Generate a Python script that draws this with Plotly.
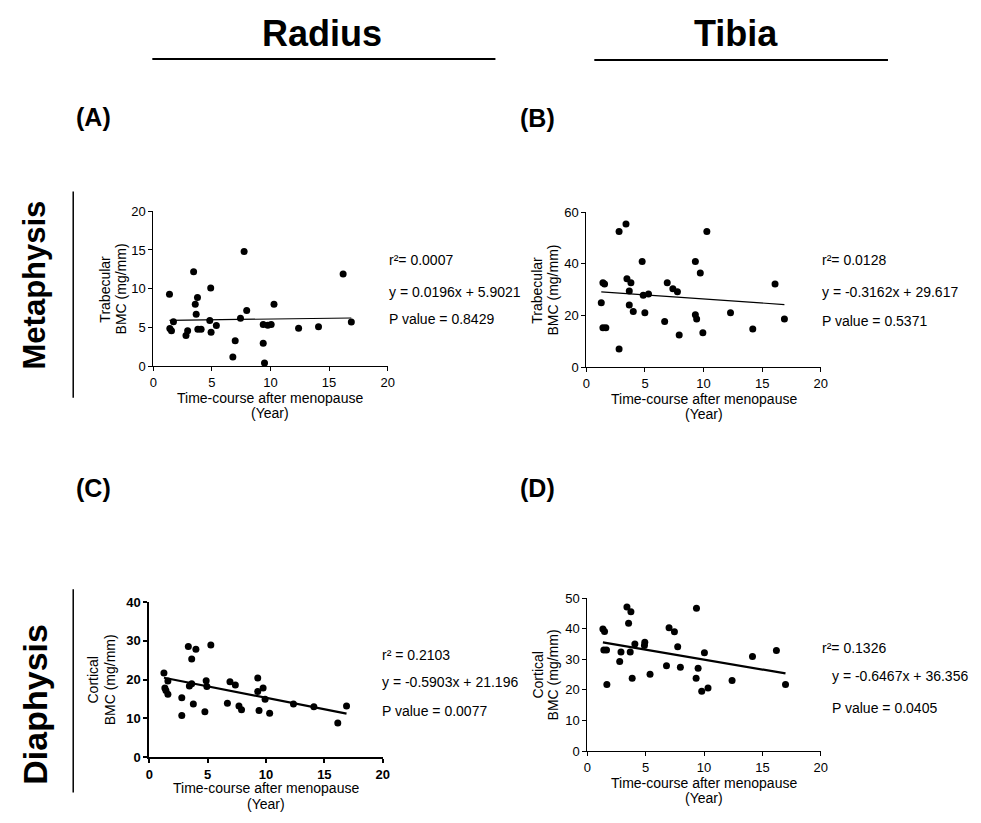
import plotly.graph_objects as go

W, H = 981, 823

# ---------------- data ----------------
years_A = [1.38, 1.41, 1.55, 1.72, 2.79, 2.93, 3.44, 3.58, 3.66, 3.77, 3.80, 4.08, 4.82, 4.90, 4.93, 5.38,
           6.79, 6.99, 7.44, 7.75, 7.97, 9.38, 9.38, 9.49, 9.77, 10.06, 10.30, 12.40, 14.10, 16.20, 16.90]
bmc_A = [9.3, 4.87, 4.58, 5.76, 3.98, 4.58, 12.2, 8.0, 6.7, 8.86, 4.79, 4.79, 5.9, 10.1, 4.4, 5.25,
         1.19, 3.3, 6.2, 14.8, 7.2, 5.4, 2.97, 0.42, 5.3, 5.4, 8.0, 4.9, 5.1, 11.9, 5.7]

years_B = [1.27, 1.41, 1.55, 1.41, 1.66, 2.79, 2.79, 3.38, 3.46, 3.80, 3.66, 3.66, 4.00, 4.76, 4.85, 4.99,
           5.30, 6.68, 6.90, 7.38, 7.77, 7.92, 9.30, 9.30, 9.41, 9.72, 9.94, 10.28, 12.30, 14.20, 16.10, 16.90]
bmc_B = [25.0, 32.7, 32.2, 15.3, 15.3, 52.5, 7.1, 55.4, 34.3, 32.7, 29.5, 24.1, 21.6, 40.9, 27.9, 21.1,
         28.4, 17.7, 32.7, 30.4, 29.2, 12.5, 40.9, 20.3, 18.7, 36.5, 13.4, 52.5, 21.1, 14.8, 32.2, 18.7]

years_C = [1.25, 1.33, 1.42, 1.59, 1.59, 2.78, 2.78, 3.34, 3.43, 3.63, 3.63, 3.77, 3.99, 4.76, 4.87, 4.93,
           5.27, 6.69, 6.91, 7.37, 7.68, 7.90, 9.29, 9.29, 9.40, 9.75, 9.92, 10.31, 12.35, 14.10, 16.15, 16.90]
bmc_C = [21.7, 17.8, 17.2, 19.6, 16.2, 15.3, 10.7, 28.5, 18.3, 25.3, 18.9, 13.7, 27.8, 11.7, 19.7, 18.2,
         28.9, 13.9, 19.4, 18.6, 13.2, 12.2, 20.4, 16.9, 12.0, 17.8, 14.9, 11.3, 13.7, 13.0, 8.8, 13.2]

years_D = [1.33, 1.47, 1.41, 1.64, 1.67, 2.77, 2.88, 3.39, 3.53, 3.67, 3.73, 3.84, 4.07, 4.89, 4.92, 5.37,
           6.78, 7.00, 7.46, 7.74, 7.97, 9.32, 9.35, 9.49, 9.80, 10.03, 10.34, 12.40, 14.15, 16.20, 16.98]
bmc_D = [39.9, 39.1, 33.0, 33.0, 21.8, 29.3, 32.4, 47.1, 41.8, 32.4, 45.5, 23.8, 35.0, 34.5, 35.6, 25.1,
         27.9, 40.3, 39.0, 34.1, 27.4, 23.8, 46.7, 27.1, 19.6, 32.1, 20.6, 23.1, 30.9, 32.9, 21.8]

# regression results (slope, intercept) and statistics text
fit_A = (0.0196, 5.9021)
fit_B = (-0.3162, 29.617)
fit_C = (-0.5903, 21.196)
fit_D = (-0.6467, 36.356)

stats_A = ["r\u00b2= 0.0007", "y = 0.0196x + 5.9021", "P value = 0.8429"]
stats_B = ["r\u00b2= 0.0128", "y = -0.3162x + 29.617", "P value = 0.5371"]
stats_C = ["r\u00b2 = 0.2103", "y = -0.5903x + 21.196", "P value = 0.0077"]
stats_D = ["r\u00b2= 0.1326", "y = -0.6467x + 36.356", "P value = 0.0405"]

x_ticks = [0, 5, 10, 15, 20]
y_max_A, y_dtick_A = 20, 5
y_max_B, y_dtick_B = 60, 20
y_max_C, y_dtick_C = 40, 10
y_max_D, y_dtick_D = 50, 10

col_titles = ["Radius", "Tibia"]
row_titles = ["Metaphysis", "Diaphysis"]
panel_labels = ["(A)", "(B)", "(C)", "(D)"]
x_title = ["Time-course after menopause", "(Year)"]
y_title_trab = ["Trabecular", "BMC (mg/mm)"]
y_title_cort = ["Cortical", "BMC (mg/mm)"]

# ---------------- helpers ----------------
def px(xp):
    return xp / W

def py(yp):
    return 1 - yp / H

SMALL = "Arial, Liberation Sans, sans-serif"
HEAD = "Arial, Liberation Sans, sans-serif"

fig = go.Figure()

panels = [
    # name, x, y, fit, box(px l, r, top, bottom), ymax, dtick, ytitle, ytitle offsets, bold ticks, line w, axis w
    ("A", years_A, bmc_A, fit_A, (151, 388, 208, 366), y_max_A, y_dtick_A, y_title_trab, (49, 33), False, 1.2, 1),
    ("B", years_B, bmc_B, fit_B, (589, 826, 209, 367), y_max_B, y_dtick_B, y_title_trab, (50, 34), False, 1.2, 1),
    ("C", years_C, bmc_C, fit_C, (147, 383, 606, 764), y_max_C, y_dtick_C, y_title_cort, (57, 40), True, 2.2, 2),
    ("D", years_D, bmc_D, fit_D, (590, 826, 602, 758), y_max_D, y_dtick_D, y_title_cort, (50, 35), False, 2.2, 1.3),
]

annotations = []
layout_axes = {}

def add_text(x, y, text, size=14, family=SMALL, xanchor="center", angle=0):
    annotations.append(dict(
        x=px(x), y=py(y), xref="paper", yref="paper", text=text, showarrow=False,
        xanchor=xanchor, yanchor="middle", textangle=angle,
        font=dict(family=family, size=size, color="black"),
    ))

for i, (name, xs, ys, fit, box, ymax, dtick, ytitle, yoff, bold, lw, aw) in enumerate(panels):
    k = "" if i == 0 else str(i + 1)
    xa, ya = "x" + k, "y" + k
    l, r, t, b = box
    tickfont = dict(family=SMALL, size=13, color="black")
    if bold:
        tickfont["weight"] = "bold"
    layout_axes["xaxis" + k] = dict(
        domain=[px(l), px(r)], anchor=ya, range=[0, 20], tickvals=x_ticks,
        showline=True, linecolor="black", linewidth=aw, ticks="outside", ticklen=4,
        tickcolor="black", tickwidth=aw, showgrid=False, zeroline=False, tickfont=tickfont,
    )
    layout_axes["yaxis" + k] = dict(
        domain=[py(b), py(t)], anchor=xa, range=[0, ymax], dtick=dtick,
        showline=True, linecolor="black", linewidth=aw, ticks="outside", ticklen=4,
        tickcolor="black", tickwidth=aw, showgrid=False, zeroline=False, tickfont=tickfont,
    )
    fig.add_trace(go.Scatter(
        x=xs, y=ys, mode="markers", xaxis=xa, yaxis=ya, cliponaxis=False,
        marker=dict(color="black", size=7), showlegend=False, hoverinfo="x+y",
    ))
    slope, icpt = fit
    x0, x1 = min(xs), max(xs)
    fig.add_trace(go.Scatter(
        x=[x0, x1], y=[slope * x0 + icpt, slope * x1 + icpt], mode="lines",
        xaxis=xa, yaxis=ya, line=dict(color="black", width=lw), showlegend=False,
    ))
    # axis titles
    add_text((l + r) / 2, b + 32, x_title[0])
    add_text((l + r) / 2, b + 48, x_title[1])
    add_text(l - yoff[0], (t + b) / 2, ytitle[0], angle=-90)
    add_text(l - yoff[1], (t + b) / 2, ytitle[1], angle=-90)

# stats text positions (pixel)
stats_pos = {
    "A": [(387, 258), (387, 290), (387, 318)],
    "B": [(825, 258), (825, 290), (825, 320)],
    "C": [(380, 660), (380, 688), (380, 717)],
    "D": [(825, 653), (835, 681), (835, 714)],
}
for name, stats in zip(["A", "B", "C", "D"], [stats_A, stats_B, stats_C, stats_D]):
    for txt, (sx, sy) in zip(stats, stats_pos[name]):
        add_text(sx, sy, txt, xanchor="left")

# column titles
for txt, cx in zip(col_titles, [322, 740]):
    add_text(cx, 27, "<b>" + txt + "</b>", size=36, family=HEAD)

# row titles
for txt, cy, fs in zip(row_titles, [283, 710], [31, 34]):
    add_text(31, cy, "<b>" + txt + "</b>", size=fs, family=HEAD, angle=-90)

# panel labels
for txt, (lx, ly) in zip(panel_labels, [(91, 112), (540, 113), (91, 490), (540, 490)]):
    add_text(lx, ly, "<b>" + txt + "</b>", size=25, family=HEAD)

shapes = [
    dict(type="line", xref="paper", yref="paper", x0=px(150), x1=px(497), y0=py(53), y1=py(53),
         line=dict(color="black", width=2)),
    dict(type="line", xref="paper", yref="paper", x0=px(597), x1=px(894), y0=py(54), y1=py(54),
         line=dict(color="black", width=2)),
    dict(type="line", xref="paper", yref="paper", x0=px(70), x1=px(70), y0=py(188), y1=py(398),
         line=dict(color="black", width=1.5)),
    dict(type="line", xref="paper", yref="paper", x0=px(70), x1=px(70), y0=py(593), y1=py(800),
         line=dict(color="black", width=1.5)),
]

fig.update_layout(
    width=W, height=H, margin=dict(l=0, r=0, t=0, b=0),
    paper_bgcolor="white", plot_bgcolor="white",
    annotations=annotations, shapes=shapes, showlegend=False,
    **layout_axes,
)

fig.write_html(
    "out.html",
    config={"displayModeBar": False},
    post_script="document.body.style.margin='0';document.body.style.overflow='hidden';",
)
